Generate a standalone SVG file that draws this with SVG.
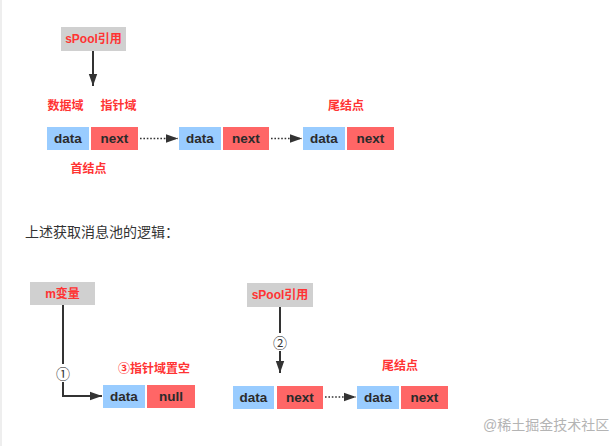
<svg xmlns="http://www.w3.org/2000/svg" width="611" height="446" viewBox="0 0 611 446">
<defs>
<style>
.bg{fill:#ffffff}
.d{fill:#99ccff}
.n{fill:#ff6666}
.g{fill:#d0d0d0}
.bt{font-family:"Liberation Sans","Noto Sans CJK SC",sans-serif;font-size:13.5px;font-weight:bold;fill:#2b2b2b;text-anchor:middle;dominant-baseline:central}
.rt{font-family:"Liberation Sans","Noto Sans CJK SC",sans-serif;font-size:12px;font-weight:bold;fill:#ff3333;text-anchor:middle;dominant-baseline:central}
.line{stroke:#333;stroke-width:2;fill:none}
.dot{stroke:#333;stroke-width:1.6;fill:none;stroke-dasharray:1.6 1.8}
.num{font-family:"Noto Sans CJK SC","DejaVu Sans",sans-serif;font-size:14px;fill:#333;text-anchor:middle;dominant-baseline:central}
</style>
<marker id="ahb" viewBox="0 0 10 10" refX="10" refY="5" markerWidth="12" markerHeight="12" markerUnits="userSpaceOnUse" orient="auto"><path d="M0,1.5 L10,5 L0,8.5 z" fill="#333"/></marker>
</defs>
<rect class="bg" x="0" y="0" width="611" height="446"/>
<rect x="0" y="0" width="2" height="446" fill="#eeeeee"/>

<g id="connectors">
<path class="line" d="M93,51 V86" marker-end="url(#ahb)"/>
<path class="dot" d="M140,138.5 H178" marker-end="url(#ahb)"/>
<path class="dot" d="M271,138.5 H302" marker-end="url(#ahb)"/>
<path class="line" d="M63,305 V396 H102" marker-end="url(#ahb)"/>
<path class="line" d="M280,307 V373" marker-end="url(#ahb)"/>
<path class="dot" d="M325,397 H356" marker-end="url(#ahb)"/>
<rect x="55" y="364" width="16" height="18" fill="#fff"/>
<rect x="272" y="333" width="16" height="18" fill="#fff"/>
<text class="num" x="63" y="373">①</text>
<text class="num" x="280" y="342">②</text>
</g>

<g id="spool-top">
<rect class="g" x="61" y="27" width="65" height="24"/>
<text class="rt" x="93.5" y="39">sPool引用</text>
</g>

<g id="labels-top">
<text class="rt" x="65.5" y="106">数据域</text>
<text class="rt" x="118.5" y="106">指针域</text>
<text class="rt" x="346" y="106">尾结点</text>
<text class="rt" x="88.5" y="169">首结点</text>
</g>

<g id="node1">
<rect class="d" x="47" y="127" width="42" height="23"/>
<text class="bt" x="68" y="138.5">data</text>
<rect class="n" x="91" y="127" width="47" height="23"/>
<text class="bt" x="114.5" y="138.5">next</text>
</g>
<g id="node2">
<rect class="d" x="179" y="127" width="42" height="23"/>
<text class="bt" x="200" y="138.5">data</text>
<rect class="n" x="223" y="127" width="46" height="23"/>
<text class="bt" x="246" y="138.5">next</text>
</g>
<g id="node3">
<rect class="d" x="303" y="127" width="42" height="23"/>
<text class="bt" x="324" y="138.5">data</text>
<rect class="n" x="347" y="127" width="47" height="23"/>
<text class="bt" x="370.5" y="138.5">next</text>
</g>

<text x="25" y="232" font-family="'Liberation Sans','Noto Sans CJK SC',sans-serif" font-size="14" fill="#333" dominant-baseline="central">上述获取消息池的逻辑：</text>

<g id="m-var">
<rect class="g" x="30" y="282" width="65" height="23"/>
<text class="rt" x="62.5" y="293.5">m变量</text>
</g>
<g id="null-node">
<rect class="d" x="103" y="385" width="42" height="23"/>
<text class="bt" x="124" y="396.5">data</text>
<rect class="n" x="147" y="385" width="48" height="23"/>
<text class="bt" x="171" y="396.5">null</text>
<text class="rt" x="154" y="369">③指针域置空</text>
</g>

<g id="spool-bottom">
<rect class="g" x="247" y="283" width="66" height="24"/>
<text class="rt" x="280" y="295">sPool引用</text>
</g>
<g id="node4">
<rect class="d" x="233" y="386" width="41" height="23"/>
<text class="bt" x="253.5" y="397.5">data</text>
<rect class="n" x="277" y="386" width="46" height="23"/>
<text class="bt" x="300" y="397.5">next</text>
</g>
<g id="node5">
<rect class="d" x="357" y="386" width="42" height="23"/>
<text class="bt" x="378" y="397.5">data</text>
<rect class="n" x="401" y="386" width="47" height="23"/>
<text class="bt" x="424.5" y="397.5">next</text>
<text class="rt" x="400" y="366">尾结点</text>
</g>

<text x="483" y="425" font-family="'Liberation Sans','Noto Sans CJK SC',sans-serif" font-size="14" fill="#b4b4b4" dominant-baseline="central">@稀土掘金技术社区</text>
</svg>
